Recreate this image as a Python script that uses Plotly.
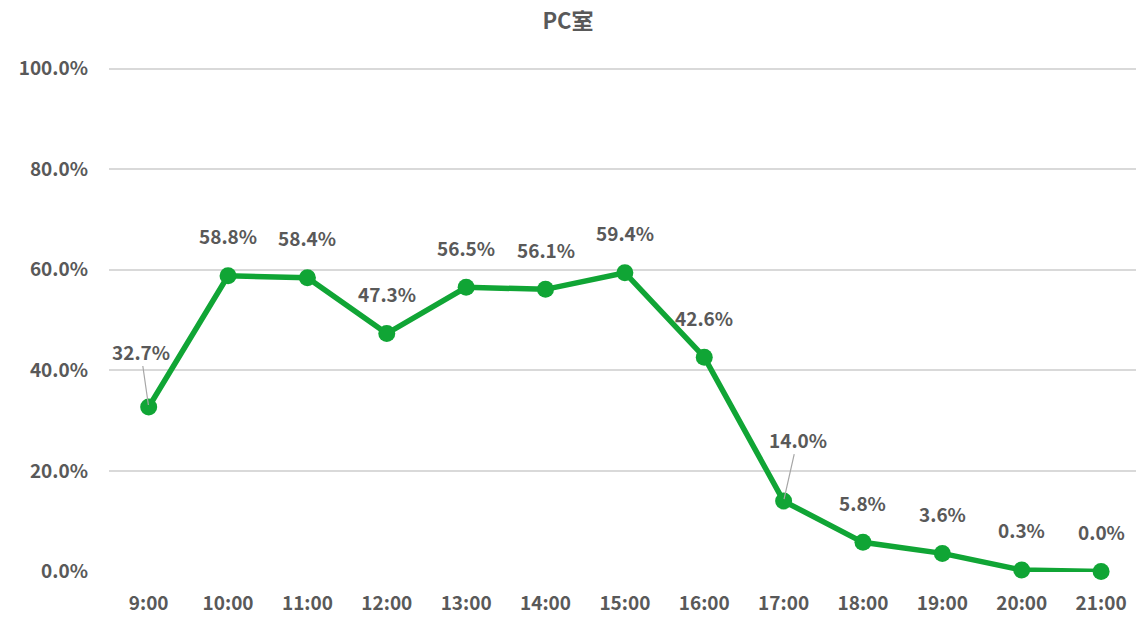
import plotly.graph_objects as go

categories = ["9:00", "10:00", "11:00", "12:00", "13:00", "14:00", "15:00",
              "16:00", "17:00", "18:00", "19:00", "20:00", "21:00"]
values = [0.327, 0.588, 0.584, 0.473, 0.565, 0.561, 0.594,
          0.426, 0.140, 0.058, 0.036, 0.003, 0.000]
labels = ["32.7%", "58.8%", "58.4%", "47.3%", "56.5%", "56.1%", "59.4%",
          "42.6%", "14.0%", "5.8%", "3.6%", "0.3%", "0.0%"]
title = "PC室"
yticks = [0, 0.2, 0.4, 0.6, 0.8, 1.0]
ytick_text = ["0.0%", "20.0%", "40.0%", "60.0%", "80.0%", "100.0%"]

# labels with leader lines: index -> (ax, ay)
leader = {0: (-8, -56), 8: (14, -62)}

FONT = "Noto Sans CJK JP"
TXT = "#595959"
GREEN = "#10a535"

fig = go.Figure()
fig.add_trace(go.Scatter(
    x=list(range(len(categories))), y=values, mode="lines+markers",
    line=dict(color=GREEN, width=5.5),
    marker=dict(color=GREEN, size=17),
    hoverinfo="skip", showlegend=False, cliponaxis=False,
))

annotations = []
for i, (v, lab) in enumerate(zip(values, labels)):
    if i in leader:
        ax, ay = leader[i]
        annotations.append(dict(
            x=i, y=v, xref="x", yref="y", text=lab, showarrow=True,
            arrowhead=0, arrowwidth=1.2, arrowcolor="#a6a6a6",
            ax=ax, ay=ay, standoff=2,
            font=dict(family=FONT, size=19, color=TXT, weight="bold"),
        ))
    else:
        annotations.append(dict(
            x=i, y=v, xref="x", yref="y", text=lab, showarrow=False,
            yshift=40, yanchor="middle",
            font=dict(family=FONT, size=19, color=TXT, weight="bold"),
        ))

fig.update_layout(
    width=1136, height=621,
    margin=dict(l=109, r=0, t=67, b=49),
    paper_bgcolor="white", plot_bgcolor="white",
    title=dict(text=title, x=0.5, xanchor="center", y=0.965, yanchor="middle",
               font=dict(family=FONT, size=22, color=TXT, weight="bold")),
    annotations=annotations,
    xaxis=dict(
        tickmode="array", tickvals=list(range(len(categories))), ticktext=categories,
        range=[-0.5, 12.44], showgrid=False, zeroline=False, showline=False,
        ticks="", ticklabelstandoff=18,
        tickfont=dict(family=FONT, size=19, color=TXT, weight="bold"),
    ),
    yaxis=dict(
        range=[-0.001, 1.003], tickvals=yticks, ticktext=ytick_text,
        showgrid=True, gridcolor="#d9d9d9", gridwidth=1.5,
        zeroline=False, showline=False, ticks="", ticklabelstandoff=20,
        tickfont=dict(family=FONT, size=19, color=TXT, weight="bold"),
    ),
)

fig.write_html("out.html", config={"displayModeBar": False},
               post_script="document.body.style.margin='0';document.body.style.overflow='hidden';")
